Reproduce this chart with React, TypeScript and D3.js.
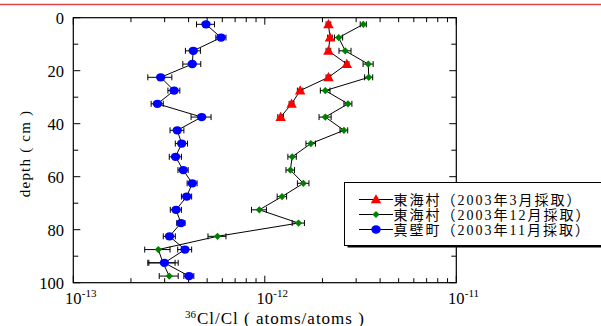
import React from "react";
import * as d3 from "d3";

// depth (cm) of each sampling layer
const depthsMar = [2.5, 7.5, 12.5, 17.5, 22.5, 27.5, 32.5, 37.5];
const depthsFull = [2.5, 7.5, 12.5, 17.5, 22.5, 27.5, 32.5, 37.5, 42.5, 47.5, 52.5, 57.5, 62.5, 67.5, 72.5, 77.5, 82.5, 87.5, 92.5, 97.5];

// 東海村 (2003年3月採取)  36Cl/Cl  (x1e-12)
const tokaiMarVal = [2.15, 2.19, 2.15, 2.68, 2.15, 1.53, 1.38, 1.21];
const tokaiMarErr = [0.06, 0.06, 0.06, 0.07, 0.06, 0.05, 0.04, 0.04];

// 東海村 (2003年12月採取)  (x1e-12)
const tokaiDecVal = [3.27, 2.43, 2.63, 3.47, 3.49, 2.07, 2.72, 2.07, 2.59, 1.74, 1.39, 1.36, 1.59, 1.23, 0.936, 1.50, 0.566, 0.278, 0.294, 0.317];
const tokaiDecErr = [0.12, 0.12, 0.19, 0.21, 0.17, 0.12, 0.13, 0.15, 0.12, 0.10, 0.07, 0.07, 0.11, 0.07, 0.084, 0.11, 0.061, 0.042, 0.046, 0.036];

// 真壁町 (2003年11月採取)  (x1e-13)
const makabeVal = [4.93, 5.91, 4.23, 4.18, 2.86, 3.36, 2.75, 4.68, 3.49, 3.68, 3.42, 3.75, 4.18, 3.91, 3.44, 3.65, 3.18, 3.83, 2.99, 4.02];
const makabeErr = [0.53, 0.36, 0.38, 0.45, 0.41, 0.24, 0.20, 0.56, 0.29, 0.27, 0.25, 0.23, 0.25, 0.24, 0.23, 0.18, 0.23, 0.32, 0.54, 0.24];

const yTicks = [0, 20, 40, 60, 80, 100];
const yMinorTicks = [10, 30, 50, 70, 90];
const xMajorTicks = [1e-13, 1e-12, 1e-11];
const xMajorExp = ["-13", "-12", "-11"];

const legendLabels = ["東海村（2003年3月採取）", "東海村（2003年12月採取）", "真壁町（2003年11月採取）"];

const W = 601;
const H = 326;
const L = 73.3, R = 456.3, T = 17.7, B = 282.7;

const serifL = "'Liberation Serif', 'Noto Sans CJK JP'";

export default function App() {
  const x = d3.scaleLog().domain([1e-13, 1e-11]).range([L, R]);
  const y = d3.scaleLinear().domain([0, 100]).range([T, B]);

  const xMinor: number[] = [];
  for (const dec of [1e-13, 1e-12]) for (let k = 2; k <= 9; k++) xMinor.push(k * dec);

  const mar = depthsMar.map((d, i) => ({ d, v: tokaiMarVal[i] * 1e-12, e: tokaiMarErr[i] * 1e-12 }));
  const dec = depthsFull.map((d, i) => ({ d, v: tokaiDecVal[i] * 1e-12, e: tokaiDecErr[i] * 1e-12 }));
  const mak = depthsFull.map((d, i) => ({ d, v: makabeVal[i] * 1e-13, e: makabeErr[i] * 1e-13 }));

  const line = d3.line<{ d: number; v: number }>().x((p) => x(p.v)).y((p) => y(p.d));
  const tri = d3.symbol(d3.symbolTriangle, 48)()!;
  const sq = d3.symbol(d3.symbolSquare, 26)()!;

  const errBars = (pts: { d: number; v: number; e: number }[]) =>
    pts.map((p, i) => {
      const x0 = x(p.v - p.e), x1 = x(p.v + p.e), yy = y(p.d);
      return (
        <g key={i} stroke="#000" strokeWidth={1}>
          <line x1={x0} x2={x1} y1={yy} y2={yy} />
          <line x1={x0} x2={x0} y1={yy - 3} y2={yy + 3} />
          <line x1={x1} x2={x1} y1={yy - 3} y2={yy + 3} />
        </g>
      );
    });

  const markerTri = (cx: number, cy: number, k: any) => (
    <path key={k} d={tri} transform={`translate(${cx},${cy + 0.8})`} fill="#ff0000" />
  );
  const markerDia = (cx: number, cy: number, k: any) => (
    <path key={k} d={sq} transform={`translate(${cx},${cy}) rotate(45)`} fill="#008000" />
  );
  const markerCirc = (cx: number, cy: number, k: any) => (
    <ellipse key={k} cx={cx} cy={cy} rx={4.7} ry={4.2} fill="#0000ff" />
  );

  const legendRows = [markerTri, markerDia, markerCirc];
  const rowY = [199.5, 214.5, 229.5];

  return (
    <svg width={W} height={H} style={{ position: "absolute", left: 0, top: 0, background: "#fff", fontFamily: serifL }}>
      <rect x={0} y={0} width={W} height={H} fill="#fff" />
      <line x1={0} x2={W} y1={4.5} y2={4.5} stroke="#e0424e" strokeWidth={1.6} />

      {/* frame */}
      <rect x={L} y={T} width={R - L} height={B - T} fill="none" stroke="#000" strokeWidth={1.2} />

      {/* y ticks */}
      {yTicks.map((t) => (
        <g key={"y" + t}>
          <line x1={L} x2={L + 7} y1={y(t)} y2={y(t)} stroke="#000" />
          <line x1={R} x2={R - 7} y1={y(t)} y2={y(t)} stroke="#000" />
          <text x={64} y={y(t) + 6} textAnchor="end" fontSize={16.5}>{t}</text>
        </g>
      ))}
      {yMinorTicks.map((t) => (
        <g key={"ym" + t}>
          <line x1={L} x2={L + 5} y1={y(t)} y2={y(t)} stroke="#000" />
          <line x1={R} x2={R - 5} y1={y(t)} y2={y(t)} stroke="#000" />
        </g>
      ))}

      {/* x ticks */}
      {xMajorTicks.map((t, i) => (
        <g key={"x" + i}>
          <line x1={x(t)} x2={x(t)} y1={B} y2={B - 7} stroke="#000" />
          <line x1={x(t)} x2={x(t)} y1={T} y2={T + 7} stroke="#000" />
          <text x={x(t)} y={304} textAnchor="middle" fontSize={16.5}>10</text>
          <text x={x(t) + 8.5} y={297} fontSize={11}>{xMajorExp[i]}</text>
        </g>
      ))}
      {xMinor.map((t, i) => (
        <g key={"xm" + i}>
          <line x1={x(t)} x2={x(t)} y1={B} y2={B - 4.5} stroke="#000" />
          <line x1={x(t)} x2={x(t)} y1={T} y2={T + 4.5} stroke="#000" />
        </g>
      ))}

      {/* axis titles */}
      <text transform="translate(29.5,153.5) rotate(-90)" textAnchor="middle" fontSize={15} letterSpacing={1.2}>depth ( cm )</text>
      <text x={185} y={317.5} fontSize={11}>36</text>
      <text x={197} y={324} fontSize={17} letterSpacing={1}>Cl/Cl ( atoms/atoms )</text>

      {/* series lines */}
      <path d={line(mar)!} fill="none" stroke="#000" strokeWidth={1} />
      <path d={line(dec)!} fill="none" stroke="#000" strokeWidth={1} />
      <path d={line(mak)!} fill="none" stroke="#000" strokeWidth={1} />

      {errBars(mar)}
      {errBars(dec)}
      {mar.map((p, i) => markerTri(x(p.v), y(p.d), i))}
      {dec.map((p, i) => markerDia(x(p.v), y(p.d), i))}
      {errBars(mak)}
      {mak.map((p, i) => markerCirc(x(p.v), y(p.d), i))}

      {/* legend */}
      <rect x={347.5} y={185.5} width={300} height={62} fill="#000" />
      <rect x={344.5} y={182.5} width={300} height={63} fill="#fff" stroke="#000" strokeWidth={1} />
      {legendLabels.map((lab, i) => (
        <g key={"lg" + i}>
          <line x1={359} x2={393} y1={rowY[i]} y2={rowY[i]} stroke="#000" />
          {legendRows[i](376, rowY[i], "m" + i)}
          <text x={393.5} y={rowY[i] + 5} fontSize={14} letterSpacing={2}>{lab}</text>
        </g>
      ))}
    </svg>
  );
}
